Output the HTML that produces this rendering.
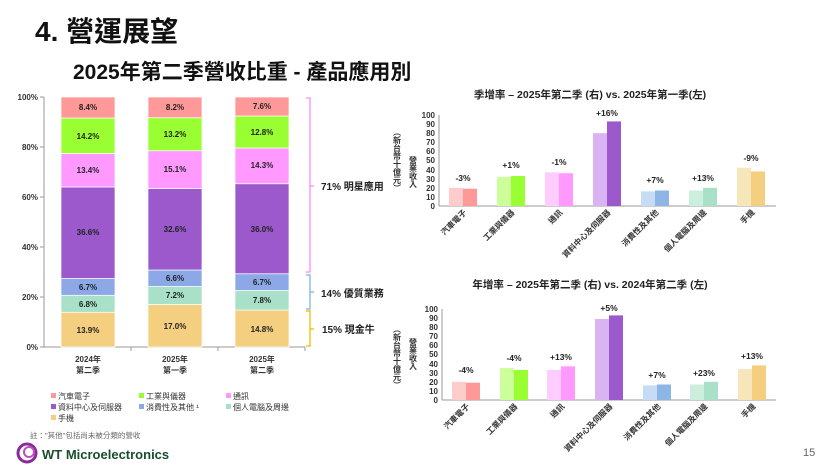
<!DOCTYPE html>
<html><head><meta charset="utf-8"><style>
html,body{margin:0;padding:0;background:#fff}
svg{display:block}
text{font-family:"Liberation Sans","Noto Sans CJK TC",sans-serif}
.b{font-weight:bold}
</style></head><body>
<svg width="830" height="465" viewBox="0 0 830 465" xmlns="http://www.w3.org/2000/svg">
<rect width="830" height="465" fill="#fff"/>
<text x="35" y="41" font-size="28" class="b" fill="#111">4. 營運展望</text>
<text x="73" y="79" font-size="21" class="b" fill="#111">2025年第二季營收比重 - 產品應用別</text>

<g font-size="8" class="b" fill="#333" text-anchor="end">
<text x="38" y="100">100%</text><text x="38" y="150">80%</text><text x="38" y="200">60%</text>
<text x="38" y="250">40%</text><text x="38" y="300">20%</text><text x="38" y="350">0%</text>
</g>
<line x1="44" y1="97" x2="44" y2="347" stroke="#999"/>
<line x1="44" y1="347" x2="305" y2="347" stroke="#999"/>
<g stroke="#999"><line x1="40" y1="97" x2="44" y2="97"/><line x1="40" y1="147" x2="44" y2="147"/><line x1="40" y1="197" x2="44" y2="197"/><line x1="40" y1="247" x2="44" y2="247"/><line x1="40" y1="297" x2="44" y2="297"/><line x1="40" y1="347" x2="44" y2="347"/><line x1="131" y1="347" x2="131" y2="351"/><line x1="218" y1="347" x2="218" y2="351"/><line x1="305" y1="347" x2="305" y2="351"/></g>
<g stroke="#fff" stroke-width="0.7">
<rect x="61" y="312.25" width="54" height="34.75" fill="#F5CF80"/>
<rect x="61" y="295.25" width="54" height="17" fill="#A8E0C8"/>
<rect x="61" y="278.5" width="54" height="16.75" fill="#8DA8E6"/>
<rect x="61" y="187" width="54" height="91.5" fill="#9B59CC"/>
<rect x="61" y="153.5" width="54" height="33.5" fill="#FF99FF"/>
<rect x="61" y="118" width="54" height="35.5" fill="#99FF33"/>
<rect x="61" y="97" width="54" height="21" fill="#FF9999"/>
<rect x="148" y="304.5" width="54" height="42.5" fill="#F5CF80"/>
<rect x="148" y="286.5" width="54" height="18" fill="#A8E0C8"/>
<rect x="148" y="270" width="54" height="16.5" fill="#8DA8E6"/>
<rect x="148" y="188.5" width="54" height="81.5" fill="#9B59CC"/>
<rect x="148" y="150.75" width="54" height="37.75" fill="#FF99FF"/>
<rect x="148" y="117.75" width="54" height="33" fill="#99FF33"/>
<rect x="148" y="97" width="54" height="20.75" fill="#FF9999"/>
<rect x="235" y="310" width="54" height="37" fill="#F5CF80"/>
<rect x="235" y="290.5" width="54" height="19.5" fill="#A8E0C8"/>
<rect x="235" y="273.75" width="54" height="16.75" fill="#8DA8E6"/>
<rect x="235" y="183.75" width="54" height="90" fill="#9B59CC"/>
<rect x="235" y="148" width="54" height="35.75" fill="#FF99FF"/>
<rect x="235" y="116" width="54" height="32" fill="#99FF33"/>
<rect x="235" y="97" width="54" height="19" fill="#FF9999"/>
</g>
<g font-size="8" class="b" fill="#222" text-anchor="middle">
<text x="88" y="333">13.9%</text><text x="88" y="307">6.8%</text><text x="88" y="290">6.7%</text><text x="88" y="235">36.6%</text><text x="88" y="173">13.4%</text><text x="88" y="139">14.2%</text><text x="88" y="110">8.4%</text>
<text x="175" y="329">17.0%</text><text x="175" y="298">7.2%</text><text x="175" y="281">6.6%</text><text x="175" y="232">32.6%</text><text x="175" y="172">15.1%</text><text x="175" y="137">13.2%</text><text x="175" y="110">8.2%</text>
<text x="262" y="332">14.8%</text><text x="262" y="303">7.8%</text><text x="262" y="285">6.7%</text><text x="262" y="232">36.0%</text><text x="262" y="168">14.3%</text><text x="262" y="135">12.8%</text><text x="262" y="109">7.6%</text>
</g>
<g font-size="8" class="b" fill="#333" text-anchor="middle">
<text x="88" y="362">2024年</text><text x="88" y="373">第二季</text>
<text x="175" y="362">2025年</text><text x="175" y="373">第一季</text>
<text x="262" y="362">2025年</text><text x="262" y="373">第二季</text>
</g>
<path d="M306 98 H310 V272 H306 M310 186 H314" fill="none" stroke="#FF88FF" stroke-width="1.3"/>
<path d="M306 275 H310 V309 H306 M310 292 H314" fill="none" stroke="#7FB2E5" stroke-width="1.3"/>
<path d="M306 311 H310 V346 H306 M310 329 H314" fill="none" stroke="#F5B800" stroke-width="1.3"/>
<g font-size="10" class="b" fill="#222">
<text x="321" y="190">71% 明星應用</text><text x="321" y="297">14% 優質業務</text><text x="322" y="333">15% 現金牛</text>
</g>
<g font-size="8" fill="#333">
<rect x="51" y="393" width="5" height="5" fill="#FF9999"/><text x="58" y="399">汽車電子</text>
<rect x="139" y="393" width="5" height="5" fill="#99FF33"/><text x="146" y="399">工業與儀器</text>
<rect x="226" y="393" width="5" height="5" fill="#FF99FF"/><text x="233" y="399">通訊</text>
<rect x="51" y="404" width="5" height="5" fill="#9B59CC"/><text x="58" y="410">資料中心及伺服器</text>
<rect x="139" y="404" width="5" height="5" fill="#8DA8E6"/><text x="146" y="410">消費性及其他 ¹</text>
<rect x="226" y="404" width="5" height="5" fill="#A8E0C8"/><text x="233" y="410">個人電腦及周邊</text>
<rect x="51" y="415" width="5" height="5" fill="#F5CF80"/><text x="58" y="421">手機</text>
<text x="30" y="438" fill="#666" font-size="7.5">註："其他"包括尚未被分類的營收</text>
</g>
<g>
<circle cx="27" cy="453" r="9" fill="none" stroke="#8B2A9B" stroke-width="3"/>
<circle cx="29" cy="452" r="5" fill="none" stroke="#C04FC0" stroke-width="2"/>
<text x="42" y="459" font-size="13" class="b" fill="#1a4d2e" font-family="Liberation Serif">WT Microelectronics</text>
</g>
<text x="803" y="456" font-size="11" fill="#666">15</text>

<!-- right top chart -->
<text x="590" y="98" font-size="10.5" class="b" fill="#222" text-anchor="middle">季增率 – 2025年第二季 (右) vs. 2025年第一季(左)</text>
<g font-size="8" class="b" fill="#333">
<text x="397" y="128" writing-mode="tb">（新台幣十億元）</text>
<text x="413" y="156" writing-mode="tb">營業收入</text>
</g>
<g font-size="8" class="b" fill="#333" text-anchor="end">
<text x="435" y="209">0</text><text x="435" y="200">10</text><text x="435" y="191">20</text><text x="435" y="182">30</text><text x="435" y="173">40</text><text x="435" y="163">50</text><text x="435" y="154">60</text><text x="435" y="145">70</text><text x="435" y="136">80</text><text x="435" y="127">90</text><text x="435" y="118">100</text>
</g>
<line x1="439" y1="115" x2="439" y2="206" stroke="#999"/>
<line x1="439" y1="206" x2="776" y2="206" stroke="#999"/>
<g>
<rect x="449" y="187.8" width="14" height="18.2" fill="#FFCCCC"/><rect x="463" y="188.7" width="14" height="17.3" fill="#FF9999"/>
<rect x="497" y="176.9" width="14" height="29.1" fill="#CCFF99"/><rect x="511" y="176" width="14" height="30" fill="#99FF33"/>
<rect x="545" y="172.3" width="14" height="33.7" fill="#FFCCFF"/><rect x="559" y="173.2" width="14" height="32.8" fill="#FF99FF"/>
<rect x="593" y="133.2" width="14" height="72.8" fill="#D9B3F2"/><rect x="607" y="121.4" width="14" height="84.6" fill="#9B59CC"/>
<rect x="641" y="191.4" width="14" height="14.6" fill="#C6DBF5"/><rect x="655" y="190.5" width="14" height="15.5" fill="#8DB5E6"/>
<rect x="689" y="190.5" width="14" height="15.5" fill="#CCEEDD"/><rect x="703" y="187.8" width="14" height="18.2" fill="#A8E0C8"/>
<rect x="737" y="167.8" width="14" height="38.2" fill="#F8E6BB"/><rect x="751" y="171.4" width="14" height="34.6" fill="#F5CF80"/>
</g>
<g font-size="8.5" class="b" fill="#222" text-anchor="middle">
<text x="463" y="181">-3%</text><text x="511" y="168">+1%</text><text x="559" y="165">-1%</text><text x="607" y="116">+16%</text><text x="655" y="183">+7%</text><text x="703" y="181">+13%</text><text x="751" y="161">-9%</text>
</g>
<g font-size="8" class="b" fill="#333" text-anchor="end">
<text transform="translate(467,213) rotate(-45)">汽車電子</text>
<text transform="translate(515,213) rotate(-45)">工業與儀器</text>
<text transform="translate(563,213) rotate(-45)">通訊</text>
<text transform="translate(611,213) rotate(-45)">資料中心及伺服器</text>
<text transform="translate(659,213) rotate(-45)">消費性及其他</text>
<text transform="translate(707,213) rotate(-45)">個人電腦及周邊</text>
<text transform="translate(755,213) rotate(-45)">手機</text>
</g>

<!-- right bottom chart -->
<text x="590" y="288" font-size="10.5" class="b" fill="#222" text-anchor="middle">年增率 – 2025年第二季 (右) vs. 2024年第二季 (左)</text>
<g font-size="8" class="b" fill="#333">
<text x="397" y="325" writing-mode="tb">（新台幣十億元）</text>
<text x="413" y="338" writing-mode="tb">營業收入</text>
</g>
<g font-size="8" class="b" fill="#333" text-anchor="end">
<text x="438" y="403">0</text><text x="438" y="394">10</text><text x="438" y="385">20</text><text x="438" y="376">30</text><text x="438" y="367">40</text><text x="438" y="357">50</text><text x="438" y="348">60</text><text x="438" y="339">70</text><text x="438" y="330">80</text><text x="438" y="321">90</text><text x="438" y="312">100</text>
</g>
<line x1="442" y1="309" x2="442" y2="400" stroke="#999"/>
<line x1="442" y1="400" x2="776" y2="400" stroke="#999"/>
<g>
<rect x="452" y="381.8" width="14" height="18.2" fill="#FFCCCC"/><rect x="466" y="382.7" width="14" height="17.3" fill="#FF9999"/>
<rect x="500" y="368.1" width="14" height="31.9" fill="#CCFF99"/><rect x="514" y="370" width="14" height="30" fill="#99FF33"/>
<rect x="547" y="370" width="14" height="30" fill="#FFCCFF"/><rect x="561" y="366.3" width="14" height="33.7" fill="#FF99FF"/>
<rect x="595" y="319" width="14" height="81" fill="#D9B3F2"/><rect x="609" y="315.4" width="14" height="84.6" fill="#9B59CC"/>
<rect x="643" y="385.4" width="14" height="14.6" fill="#C6DBF5"/><rect x="657" y="384.5" width="14" height="15.5" fill="#8DB5E6"/>
<rect x="690" y="384.5" width="14" height="15.5" fill="#CCEEDD"/><rect x="704" y="381.8" width="14" height="18.2" fill="#A8E0C8"/>
<rect x="738" y="369.1" width="14" height="30.9" fill="#F8E6BB"/><rect x="752" y="365.4" width="14" height="34.6" fill="#F5CF80"/>
</g>
<g font-size="8.5" class="b" fill="#222" text-anchor="middle">
<text x="466" y="373">-4%</text><text x="514" y="361">-4%</text><text x="561" y="360">+13%</text><text x="609" y="311">+5%</text><text x="657" y="378">+7%</text><text x="704" y="376">+23%</text><text x="752" y="359">+13%</text>
</g>
<g font-size="8" class="b" fill="#333" text-anchor="end">
<text transform="translate(470,407) rotate(-45)">汽車電子</text>
<text transform="translate(518,407) rotate(-45)">工業與儀器</text>
<text transform="translate(565,407) rotate(-45)">通訊</text>
<text transform="translate(613,407) rotate(-45)">資料中心及伺服器</text>
<text transform="translate(661,407) rotate(-45)">消費性及其他</text>
<text transform="translate(708,407) rotate(-45)">個人電腦及周邊</text>
<text transform="translate(756,407) rotate(-45)">手機</text>
</g>
</svg>
</body></html>
